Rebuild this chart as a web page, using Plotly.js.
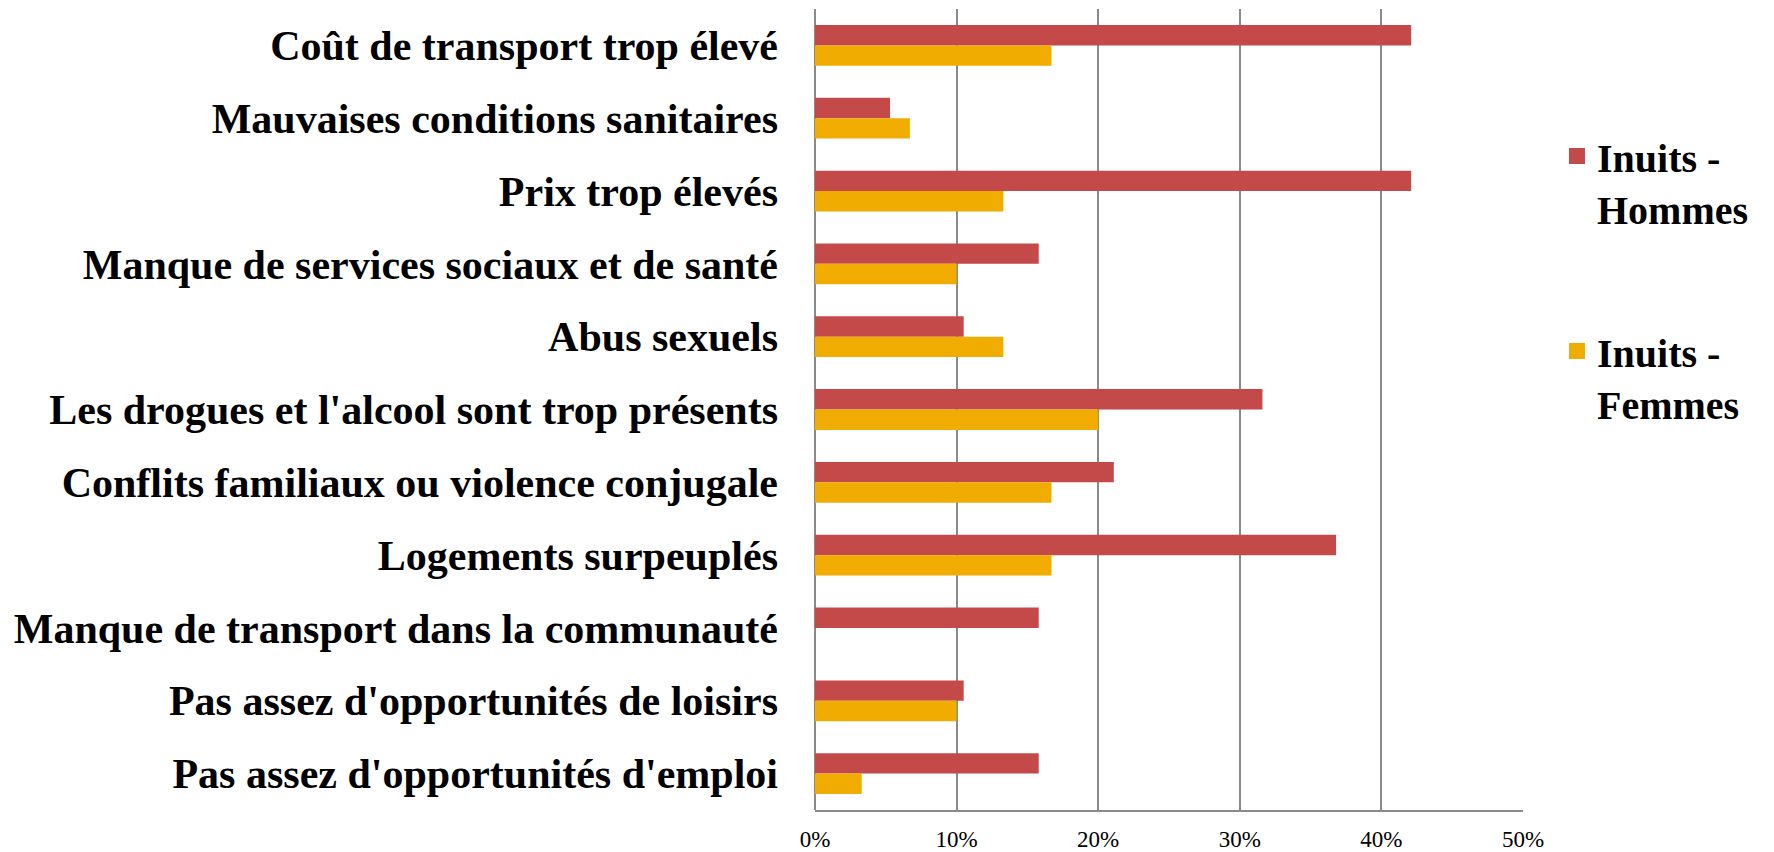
<!DOCTYPE html>
<html>
<head>
<meta charset="utf-8">
<script src="https://cdn.plot.ly/plotly-3.0.1.min.js"></script>
<style>html,body{margin:0;padding:0;background:#fff;}#chart{width:1774px;height:852px;}</style>
</head>
<body>
<div id="chart"></div>
<script>
const categories = [
  "Coût de transport trop élevé",
  "Mauvaises conditions sanitaires",
  "Prix trop élevés",
  "Manque de services sociaux et de santé",
  "Abus sexuels",
  "Les drogues et l'alcool sont trop présents",
  "Conflits familiaux ou violence conjugale",
  "Logements surpeuplés",
  "Manque de transport dans la communauté",
  "Pas assez d'opportunités de loisirs",
  "Pas assez d'opportunités d'emploi"
];
const hommes = [42.1, 5.3, 42.1, 15.8, 10.5, 31.6, 21.1, 36.8, 15.8, 10.5, 15.8];
const femmes = [16.7, 6.7, 13.3, 10.0, 13.3, 20.0, 16.7, 16.7, 0, 10.0, 3.3];
const seriesNames = ["Inuits -<br>Hommes", "Inuits -<br>Femmes"];
const seriesColors = ['#C44A49', '#F0AC00'];
const tickVals = [0, 10, 20, 30, 40, 50];
const tickText = ["0%", "10%", "20%", "30%", "40%", "50%"];

const serif = "'Liberation Serif', 'DejaVu Serif', serif";

const data = [
  {type: 'bar', orientation: 'h', name: seriesNames[0], y: categories, x: hommes,
   marker: {color: seriesColors[0]}, showlegend: false, hoverinfo: 'x+y'},
  {type: 'bar', orientation: 'h', name: seriesNames[1], y: categories, x: femmes,
   marker: {color: seriesColors[1]}, showlegend: false, hoverinfo: 'x+y'},
  {type: 'scatter', mode: 'markers', name: seriesNames[0], x: [null], y: [null],
   marker: {symbol: 'square', size: 19, color: seriesColors[0]}, legendgroup: 'h', hoverinfo: 'skip'},
  {type: 'scatter', mode: 'markers', name: seriesNames[1], x: [null], y: [null],
   marker: {symbol: 'square', size: 19, color: seriesColors[1]}, legendgroup: 'f', hoverinfo: 'skip'}
];

const layout = {
  width: 1774, height: 852,
  margin: {l: 815, r: 251, t: 9, b: 42, pad: 0},
  paper_bgcolor: '#ffffff', plot_bgcolor: '#ffffff',
  barmode: 'group', bargap: 0.44, bargroupgap: 0,
  font: {family: serif, color: '#000000'},
  xaxis: {
    range: [0, 50], tickvals: tickVals, ticktext: tickText,
    showgrid: true, gridcolor: '#8a8a8a', gridwidth: 2,
    zeroline: true, zerolinecolor: '#8a8a8a', zerolinewidth: 2,
    showline: true, linecolor: '#8a8a8a', linewidth: 2,
    ticks: '', ticklabelstandoff: 7,
    tickfont: {family: serif, size: 23, color: '#000'}
  },
  yaxis: {
    autorange: 'reversed', type: 'category',
    showgrid: false, zeroline: false, showline: false,
    ticks: '', ticklabelstandoff: 36,
    tickfont: {family: serif, size: 42, color: '#000', weight: 'bold'}
  },
  showlegend: true,
  legend: {
    x: 1.048, xanchor: 'left', y: 0.857, yanchor: 'top',
    font: {family: serif, size: 40, color: '#000', weight: 'bold'},
    valign: 'top', tracegroupgap: 88, traceorder: 'grouped',
    bgcolor: 'rgba(0,0,0,0)', itemwidth: 30
  }
};

Plotly.newPlot('chart', data, layout, {displayModeBar: false});
</script>
</body>
</html>
